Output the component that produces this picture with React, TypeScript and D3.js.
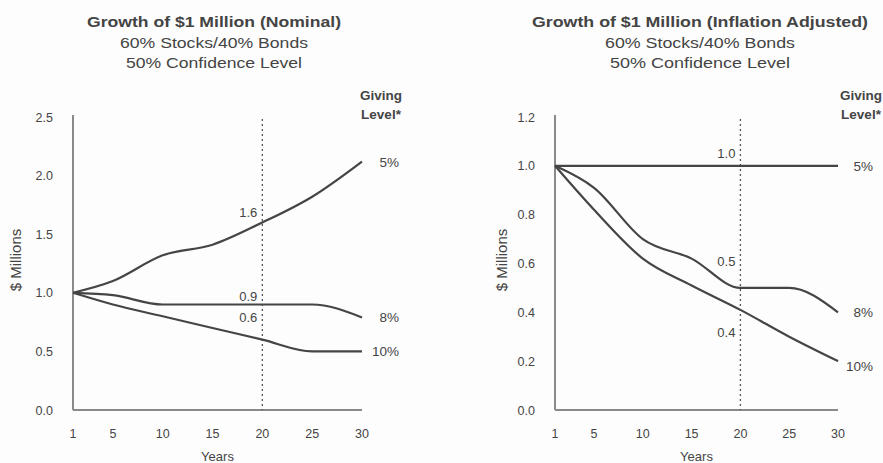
import React from "react";
import * as d3 from "d3";

const years = [1, 5, 10, 15, 20, 25, 30];
const xTicks = [1, 5, 10, 15, 20, 25, 30];

const nominalLevels = ["5%", "8%", "10%"];
const nominal5 = [1.0, 1.1, 1.32, 1.41, 1.6, 1.82, 2.12];
const nominal8 = [1.0, 0.98, 0.9, 0.9, 0.9, 0.9, 0.79];
const nominal10 = [1.0, 0.9, 0.8, 0.7, 0.6, 0.5, 0.5];
const nominalYTicks = [0, 0.5, 1.0, 1.5, 2.0, 2.5];
const nominalMarks = ["1.6", "0.9", "0.6"];
const nominalMarkValues = [1.6, 0.9, 0.6];

const realLevels = ["5%", "8%", "10%"];
const real5 = [1.0, 1.0, 1.0, 1.0, 1.0, 1.0, 1.0];
const real8 = [1.0, 0.91, 0.7, 0.62, 0.5, 0.5, 0.4];
const real10 = [1.0, 0.82, 0.62, 0.51, 0.41, 0.3, 0.2];
const realYTicks = [0, 0.2, 0.4, 0.6, 0.8, 1.0, 1.2];
const realMarks = ["1.0", "0.5", "0.4"];
const realMarkValues = [1.0, 0.5, 0.4];

const FONT = "'Liberation Sans', Arial, sans-serif";
const TEXT = "#444";
const LINE = "#454545";
const AXIS = "#8a8a8a";

type PanelProps = {
  title: string;
  titleW: number;
  subW: number[];
  x0: number;
  x1: number;
  yMax: number;
  yTicks: number[];
  series: number[][];
  levels: string[];
  marks: string[];
  markValues: number[];
  markDy: number[];
  endDy: number[];
  centerX: number;
  legendX: number;
  endX: number;
  yTitleX: number;
};

function Panel(p: PanelProps) {
  const x = d3.scaleLinear().domain([1, 30]).range([p.x0, p.x1]);
  const yTop = 117;
  const yBot = 410;
  const y = d3.scaleLinear().domain([0, p.yMax]).range([yBot, yTop]);
  const line = d3
    .line<number>()
    .x((_, i) => x(years[i]))
    .y((d) => y(d))
    .curve(d3.curveMonotoneX);
  const fmt = d3.format(".1f");
  const xd = x(20);
  return (
    <g fontFamily={FONT} fill={TEXT}>
      <text
        x={p.centerX}
        y={27}
        textAnchor="middle"
        fontWeight="bold"
        fontSize={14.5}
        textLength={p.titleW}
        lengthAdjust="spacingAndGlyphs"
      >
        {p.title}
      </text>
      <text
        x={p.centerX}
        y={48}
        textAnchor="middle"
        fontSize={14}
        textLength={p.subW[0]}
        lengthAdjust="spacingAndGlyphs"
      >
        60% Stocks/40% Bonds
      </text>
      <text
        x={p.centerX}
        y={68}
        textAnchor="middle"
        fontSize={14}
        textLength={p.subW[1]}
        lengthAdjust="spacingAndGlyphs"
      >
        50% Confidence Level
      </text>
      <text x={p.legendX} y={100} textAnchor="middle" fontWeight="bold" fontSize={13.5}>
        Giving
      </text>
      <text x={p.legendX} y={119} textAnchor="middle" fontWeight="bold" fontSize={13.5}>
        Level*
      </text>
      <line x1={p.x0} x2={p.x0} y1={yTop - 2} y2={yBot} stroke={AXIS} strokeWidth={2} />
      <line x1={p.x0} x2={p.x1} y1={yBot} y2={yBot} stroke={AXIS} strokeWidth={2} />
      <line
        x1={xd}
        x2={xd}
        y1={yTop + 2}
        y2={yBot}
        stroke="#555"
        strokeWidth={1.3}
        strokeDasharray="2,3"
      />
      {p.yTicks.map((t) => (
        <text key={t} x={p.x0 - 20} y={y(t) + 4.5} textAnchor="end" fontSize={12.5}>
          {fmt(t)}
        </text>
      ))}
      {xTicks.map((t) => (
        <text key={t} x={x(t)} y={438} textAnchor="middle" fontSize={12.5}>
          {t}
        </text>
      ))}
      <text x={(p.x0 + p.x1) / 2} y={461} textAnchor="middle" fontSize={13}>
        Years
      </text>
      <text
        transform={`translate(${p.yTitleX},260) rotate(-90)`}
        textAnchor="middle"
        fontSize={15}
      >
        $ Millions
      </text>
      {p.series.map((s, i) => (
        <path key={i} d={line(s) || ""} fill="none" stroke={LINE} strokeWidth={2.2} />
      ))}
      {p.series.map((s, i) => (
        <text
          key={"e" + i}
          x={p.endX}
          y={y(s[s.length - 1]) + 5 + p.endDy[i]}
          textAnchor="end"
          fontSize={13.5}
        >
          {p.levels[i]}
        </text>
      ))}
      {p.marks.map((m, i) => (
        <text
          key={"m" + i}
          x={xd - 5}
          y={y(p.markValues[i]) + p.markDy[i]}
          textAnchor="end"
          fontSize={13}
        >
          {m}
        </text>
      ))}
    </g>
  );
}

export default function App() {
  return (
    <svg width={883} height={463} style={{ display: "block", position: "absolute", left: 0, top: 0 }}>
      <rect width={883} height={463} fill="#fdfdfd" />
      <Panel
        title="Growth of $1 Million (Nominal)"
        titleW={254}
        subW={[188, 176]}
        x0={73}
        x1={362}
        yMax={2.5}
        yTicks={nominalYTicks}
        series={[nominal5, nominal8, nominal10]}
        levels={nominalLevels}
        marks={nominalMarks}
        markValues={nominalMarkValues}
        markDy={[-5, -4, -18]}
        endDy={[0, 0, 0]}
        centerX={214}
        legendX={381}
        endX={399}
        yTitleX={21}
      />
      <Panel
        title="Growth of $1 Million (Inflation Adjusted)"
        titleW={336}
        subW={[190, 180]}
        x0={555}
        x1={838}
        yMax={1.2}
        yTicks={realYTicks}
        series={[real5, real8, real10]}
        levels={realLevels}
        marks={realMarks}
        markValues={realMarkValues}
        markDy={[-8, -22, 25]}
        endDy={[0, 0, 5]}
        centerX={700}
        legendX={861}
        endX={873}
        yTitleX={507}
      />
    </svg>
  );
}
